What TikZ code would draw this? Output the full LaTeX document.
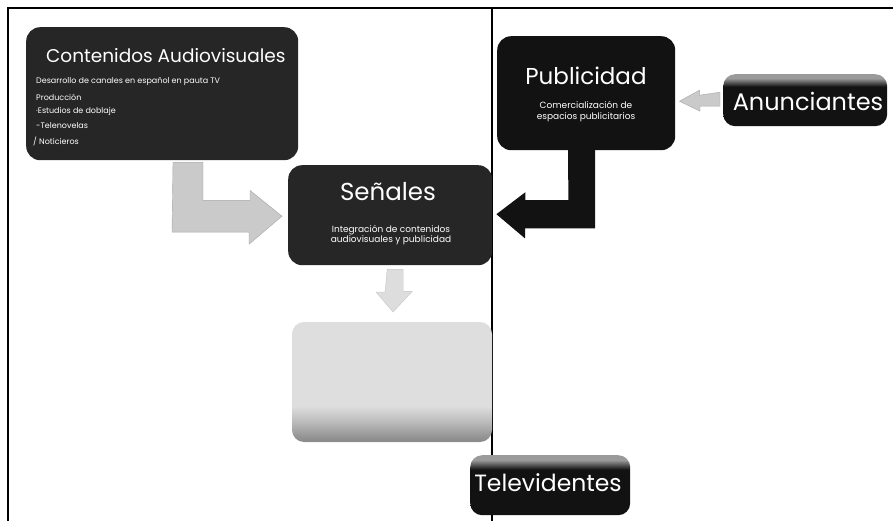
\documentclass[tikz,border=0pt]{standalone}
\usepackage{fontspec}
\setmainfont{Poppins}
\usetikzlibrary{calc}
\definecolor{boxdark}{HTML}{121212}
\definecolor{boxmid}{HTML}{262626}
\definecolor{arrgray}{HTML}{CACACA}
\definecolor{arrlight}{HTML}{DDDDDD}
\definecolor{lightbox}{HTML}{DEDEDE}
\definecolor{fadegray}{HTML}{9A9A9A}
\pgfdeclareverticalshading{topfade}{100bp}{color(0bp)=(boxdark); color(63bp)=(boxdark); color(71bp)=(fadegray); color(100bp)=(fadegray)}
\pgfdeclareverticalshading{lowfade}{100bp}{color(0bp)=(gray!95); color(26bp)=(gray!90); color(33bp)=(gray!55); color(40bp)=(lightbox); color(100bp)=(lightbox)}
\begin{document}
\begin{tikzpicture}[x=1pt,y=-1pt,
  darkbox/.style={fill=boxdark, draw=none, rounded corners=14pt, anchor=north west, inner sep=0pt},
  noisybox/.style={shading=topfade, draw=none, rounded corners=12pt, anchor=north west, inner sep=0pt},
  titletext/.style={text=white, inner sep=0pt},
  subtext/.style={text=white, inner sep=0pt, align=center},
  listtext/.style={text=white, inner sep=0pt, anchor=west, font=\fontsize{8}{9}\selectfont},
  frameline/.style={line width=1.3pt, black},
  grayarrow/.style={fill=arrgray, draw=gray!70, line width=0.4pt},
  blackarrow/.style={fill=boxdark, draw=none}
]
\useasboundingbox (0,0) rectangle (893,521);

% frame and divider
\coordinate (ftl) at (8,8);
\coordinate (ftr) at (893,8);
\coordinate (fbl) at (8,521);
\coordinate (dtop) at (492,8);
\coordinate (dbot) at (492,521);
\draw[frameline] (ftr) -- (ftl) -- (fbl);
\draw[frameline] (dtop) -- (dbot);

% boxes
\node[darkbox, fill=boxmid, minimum width=272pt, minimum height=133pt] (cont) at (26,27) {};
\node[darkbox, fill=boxmid, minimum width=204pt, minimum height=100pt] (sen) at (288,165) {};
\node[darkbox, minimum width=178pt, minimum height=114pt] (pub) at (497,36) {};
\node[noisybox, minimum width=164pt, minimum height=52pt] (anun) at (723,74) {};
\node[noisybox, minimum width=160pt, minimum height=60pt] (tele) at (470,455) {};
\path[shading=lowfade, rounded corners=12pt] (292,322) rectangle (492,442);
\coordinate (low) at (392,382);

% texts
\node[titletext, anchor=west, font=\fontsize{18.5}{20}\selectfont] (contT) at (46,56) {Contenidos Audiovisuales};
\node[listtext] (c1) at (36,82) {Desarrollo de canales en español en pauta TV};
\node[listtext] (c2) at (36,97) {Producción};
\node[listtext] (c3) at (36,111) {·Estudios de doblaje};
\node[listtext] (c4) at (36,126) {-Telenovelas};
\node[listtext] (c5) at (33,141) {/ Noticieros};

\node[titletext, font=\fontsize{23}{24}\selectfont] (pubT) at (586,76) {Publicidad};
\node[subtext, font=\fontsize{9}{11}\selectfont] (pubS) at (586,112) {Comercialización de\\espacios publicitarios};

\node[titletext, font=\fontsize{24}{26}\selectfont] (anT) at (808,101) {Anunciantes};

\node[titletext, font=\fontsize{24.5}{26}\selectfont] (senT) at (388,192) {Señales};
\node[subtext, font=\fontsize{9}{10.5}\selectfont] (senS) at (391,235) {Integración de contenidos\\audiovisuales y publicidad};

\node[titletext, font=\fontsize{23.5}{25}\selectfont] (telT) at (548,483) {Televidentes};

% arrows
% Contenidos -> Senales (gray L-arrow)
\path[grayarrow] ($(cont.south west)+(147,2)$) -- ++(30,0) -- ++(0,38) -- ++(47,0) -- ++(0,-10)
  -- ($(sen.west)+(-6,1)$) -- ++(-33,28) -- ++(0,-12) -- ++(-77,0) -- cycle;
% Publicidad -> Senales (black L-arrow)
\path[blackarrow] ($(pub.south west)+(71,-2)$) -- ++(27,0) -- ++(0,80) -- ++(-70,0) -- ++(0,10)
  -- ($(sen.east)+(4,-1)$) -- ++(29,-22) -- ++(0,8) -- ++(43,0) -- cycle;
% Anunciantes -> Publicidad (small gray arrow)
\path[grayarrow] ($(anun.west)+(-3,-8)$) -- ++(0,14) -- ++(-20,0) -- ++(0,5)
  -- ($(pub.east)+(4,8)$) -- ++(20,-11) -- ++(0,5) -- cycle;
% Senales -> lower box (small faint arrow)
\path[fill=arrlight, draw=gray!45, line width=0.4pt] ($(sen.south)+(-3,4)$) -- ++(16,0) -- ++(0,22) -- ++(9,0)
  -- ($(low)+(1,-70)$) -- ++(-17,-20) -- ++(9,0) -- cycle;
\end{tikzpicture}
\end{document}
